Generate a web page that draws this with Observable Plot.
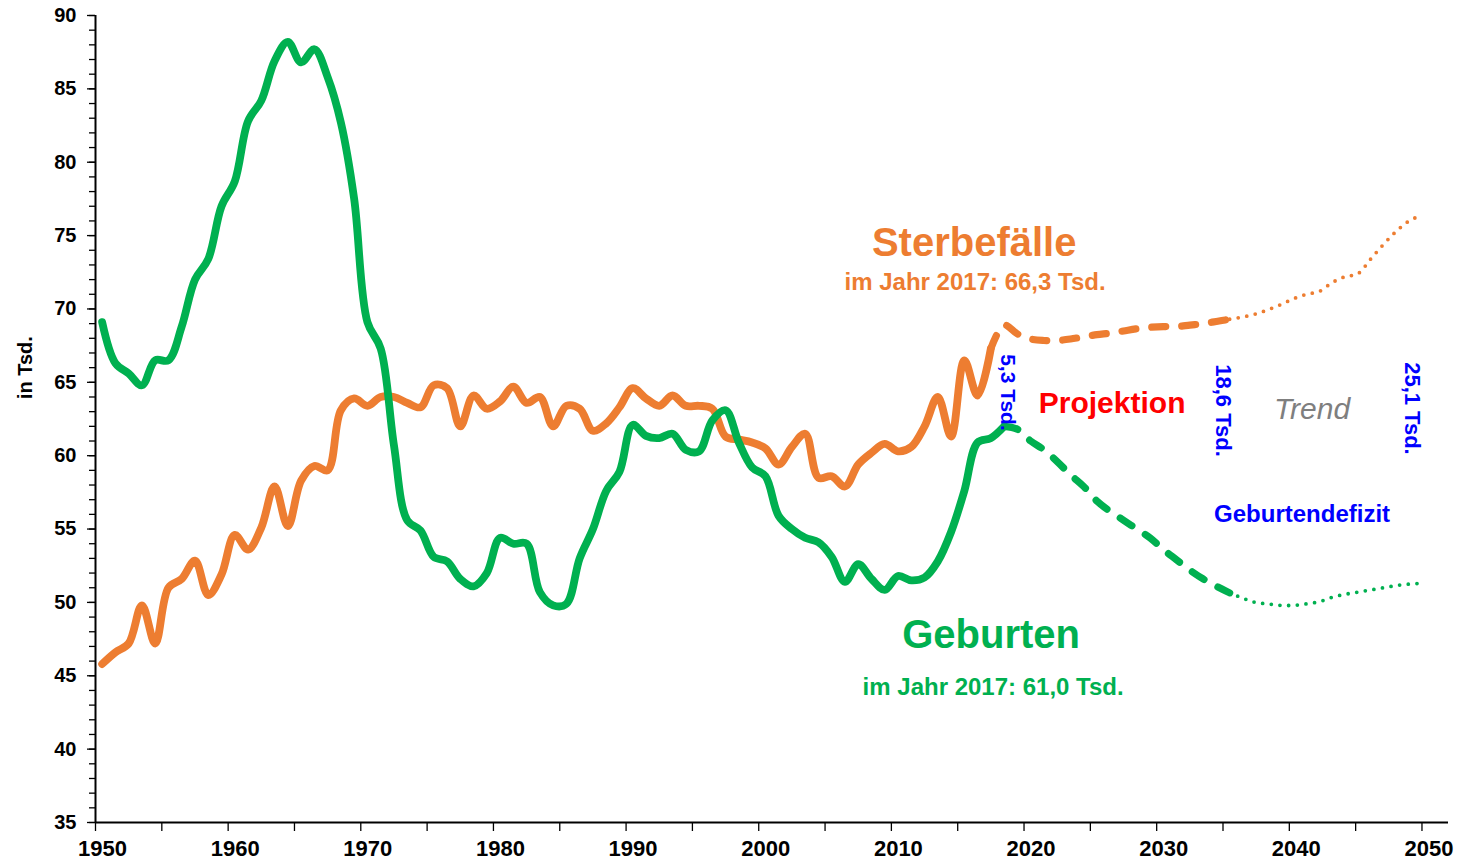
<!DOCTYPE html>
<html>
<head>
<meta charset="utf-8">
<script src="https://cdn.jsdelivr.net/npm/d3@7"></script>
<script src="https://cdn.jsdelivr.net/npm/@observablehq/plot@0.6"></script>
<style>
  html, body { margin: 0; padding: 0; background: #ffffff; }
</style>
</head>
<body>
<div id="chart"></div>
<script>
// ---------- data (in Tsd., one value per year) ----------
const histStart = 1950;
const birthsHist = [
  69.1, 66.3, 65.6, 64.8, 66.5, 66.5, 68.8, 72.0, 73.4, 77.0,   // 1950-1959
  78.7, 82.8, 84.2, 86.9, 88.2, 86.8, 87.7, 85.8, 82.7, 77.5,   // 1960-1969
  69.1, 67.3, 60.7, 55.6, 54.9, 53.1, 52.8, 51.6, 51.1, 52.0,   // 1970-1979
  54.4, 54.0, 54.0, 50.7, 49.8, 49.9, 53.0, 55.0, 57.6, 58.9,   // 1980-1989
  62.1, 61.35, 61.2, 61.5, 60.4, 60.3, 62.4, 63.1, 60.9, 59.2,  // 1990-1999
  58.6, 55.9, 55.0, 54.4, 54.1, 53.1, 51.4, 52.6, 51.6, 50.85,  // 2000-2009
  51.8, 51.5, 51.7, 52.8, 54.8, 57.6, 60.9, 61.2, 62.0          // 2010-2018
];
const deathsHist = [
  45.8, 46.6, 47.2, 49.8, 47.2, 51.0, 51.6, 52.85, 50.5, 51.9,  // 1950-1959
  54.6, 53.6, 55.1, 57.9, 55.2, 58.3, 59.3, 59.0, 63.1, 63.9,   // 1960-1969
  63.4, 64.0, 64.0, 63.6, 63.3, 64.8, 64.6, 62.0, 64.1, 63.2,   // 1970-1979
  63.7, 64.7, 63.6, 64.0, 62.0, 63.4, 63.2, 61.7, 62.2, 63.3,   // 1980-1989
  64.6, 63.9, 63.4, 64.1, 63.4, 63.4, 63.2, 61.3, 61.1, 60.9,   // 1990-1999
  60.5, 59.4, 60.6, 61.5, 58.5, 58.6, 57.9, 59.4, 60.2, 60.8,   // 2000-2009
  60.3, 60.6, 62.0, 64.0, 61.3, 66.5, 64.1, 67.3                // 2010-2017
];
// Projektion (dashed)
const birthsProjStart = 2018;
const birthsProj = [62.0, 61.8, 61.0, 60.4, 59.6, 58.7, 57.9, 56.9, 56.2, 55.6,
                    55.0, 54.4, 53.6, 52.9, 52.2, 51.6, 51.1, 50.65];          // 2018-2035
const deathsProjStart = 2017;
const deathsProj = [67.3, 68.9, 68.3, 67.95, 67.85, 67.85, 67.95, 68.1, 68.25, 68.35,
                    68.5, 68.65, 68.75, 68.8, 68.8, 68.9, 69.0, 69.15, 69.3];   // 2017-2035
// Trend (dotted)
const trendStart = 2035;
const birthsTrend = [50.65, 50.3, 50.0, 49.9, 49.8, 49.8, 49.9, 50.05, 50.35, 50.55,
                     50.7, 50.85, 51.0, 51.15, 51.25, 51.3];                    // 2035-2050
const deathsTrend = [69.3, 69.45, 69.65, 69.95, 70.3, 70.7, 71.0, 71.2, 71.8, 72.2,
                     72.4, 73.4, 74.4, 75.3, 76.0, 76.4];                       // 2035-2050

const xTicksMinor = [1950,1955,1960,1965,1970,1975,1980,1985,1990,1995,2000,2005,2010,2015,2020,2025,2030,2035,2040,2045,2050];
const xTickLabels = [1950,1960,1970,1980,1990,2000,2010,2020,2030,2040,2050];
const yTicksMajor = [35,40,45,50,55,60,65,70,75,80,85,90];
const yTicksMinor = d3.range(35, 91, 1);

const txtDeaths = "Sterbefälle";
const txtDeathsSub = "im Jahr 2017: 66,3 Tsd.";
const txtBirths = "Geburten";
const txtBirthsSub = "im Jahr 2017: 61,0 Tsd.";
const txtProj = "Projektion";
const txtTrend = "Trend";
const txtDeficit = "Geburtendefizit";
const txtDef2017 = "5,3 Tsd.";
const txtDef2035 = "18,6 Tsd.";
const txtDef2050 = "25,1 Tsd.";
const txtYLabel = "in Tsd.";

// ---------- build rows ----------
// historical and projection values are drawn at mid-year; the trend ends on the 2050 tick
const rows = (start, vals) => vals.map((v, i) => ({year: start + i + 0.5, value: v}));
const trendRows = (start, vals) => vals.map((v, i) => ({year: start + 0.5 + i * (14.5 / (vals.length - 1)), value: v}));

const ORANGE = "#ED7D31";
const GREEN = "#00B050";
const BLUE = "#0000FF";
const FONT = "Arial, 'Liberation Sans', Helvetica, sans-serif";

const solid = {x: "year", y: "value", strokeWidth: 7.8, curve: "catmull-rom", strokeLinecap: "round", strokeLinejoin: "round"};
const dashed = {x: "year", y: "value", strokeWidth: 7.2, curve: "catmull-rom", strokeLinecap: "round", strokeLinejoin: "round", strokeDasharray: "14,16"};
const dotted = {x: "year", y: "value", strokeWidth: 3.8, curve: "catmull-rom", strokeLinecap: "round", strokeDasharray: "0,8.7"};

const label = (t, opts) => Plot.text([t], {text: d => d, fontFamily: FONT, fontWeight: "bold", lineAnchor: "bottom", textAnchor: "middle", ...opts});

const chart = Plot.plot({
  width: 1468,
  height: 861,
  marginLeft: 95,
  marginRight: 20,
  marginTop: 15,
  marginBottom: 39,
  x: {domain: [1950, 2052], axis: null, label: null},
  y: {domain: [35, 90], axis: null, label: null},
  style: {fontFamily: FONT, background: "#ffffff", color: "#000000", overflow: "visible"},
  marks: [
    // axes
    Plot.axisY({ticks: yTicksMinor, tickSize: 6, fill: "none", strokeWidth: 1.3, label: null}),
    Plot.axisY({ticks: yTicksMajor, tickSize: 8, tickPadding: 11, strokeWidth: 1.3, fontSize: 20, fontWeight: "bold", tickFormat: d => String(d), label: null}),
    Plot.axisX({ticks: xTicksMinor, tickSize: 9, fill: "none", strokeWidth: 1.3, label: null}),
    Plot.axisX({ticks: xTickLabels, tickSize: 0, tickPadding: 18, dx: 7, fontSize: 22, fontWeight: "bold", tickFormat: d => String(d), label: null}),
    Plot.ruleX([1950], {stroke: "#000", strokeWidth: 2}),
    Plot.ruleY([35], {stroke: "#000", strokeWidth: 2}),

    // Sterbefälle
    Plot.line(rows(histStart, deathsHist), {...solid, stroke: ORANGE}),
    Plot.line(rows(deathsProjStart, deathsProj), {...dashed, stroke: ORANGE}),
    Plot.line(trendRows(trendStart, deathsTrend), {...dotted, stroke: ORANGE}),

    // Geburten
    Plot.line(rows(histStart, birthsHist), {...solid, stroke: GREEN}),
    Plot.line(rows(birthsProjStart, birthsProj), {...dashed, stroke: GREEN}),
    Plot.line(trendRows(trendStart, birthsTrend), {...dotted, stroke: GREEN}),

    // annotations
    label(txtDeaths, {x: 2016.24, y: 73.64, fill: ORANGE, fontSize: 40}),
    label(txtDeathsSub, {x: 2016.31, y: 71.26, fill: ORANGE, fontSize: 24}),
    label(txtBirths, {x: 2017.52, y: 46.86, fill: GREEN, fontSize: 40}),
    label(txtBirthsSub, {x: 2017.67, y: 43.66, fill: GREEN, fontSize: 24}),
    label(txtProj, {x: 2026.64, y: 62.88, fill: "#FF0000", fontSize: 30}),
    label(txtTrend, {x: 2041.71, y: 62.53, fill: "#7F7F7F", fontSize: 30, fontWeight: "normal", fontStyle: "italic"}),
    label(txtDeficit, {x: 2040.96, y: 55.45, fill: BLUE, fontSize: 24}),
    label(txtDef2017, {x: 2018.76, y: 64.31, fill: BLUE, fontSize: 21, rotate: 90, lineAnchor: "middle"}),
    label(txtDef2035, {x: 2035.0, y: 63.08, fill: BLUE, fontSize: 22, rotate: 90, lineAnchor: "middle"}),
    label(txtDef2050, {x: 2049.25, y: 63.22, fill: BLUE, fontSize: 22, rotate: 90, lineAnchor: "middle"}),
    label(txtYLabel, {x: 1944.72, y: 66.0, fill: "#000", fontSize: 20, rotate: -90, lineAnchor: "middle"})
  ]
});

document.getElementById("chart").appendChild(chart);
</script>
</body>
</html>
